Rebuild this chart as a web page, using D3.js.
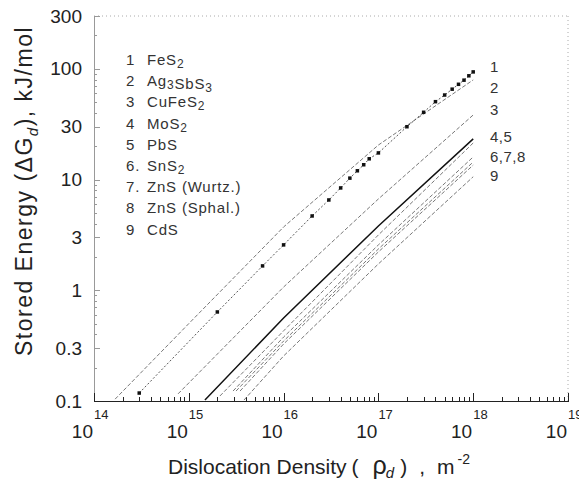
<!DOCTYPE html>
<html lang="en">
<head>
<meta charset="UTF-8">
<title>Stored energy vs dislocation density</title>
<script src="https://d3js.org/d3.v7.min.js"></script>
<style>
  body { margin: 0; background: #fff; }
  svg { font-family: "Liberation Sans", Arial, sans-serif; }
  .axis path, .axis line { fill: none; shape-rendering: crispEdges; }
  .bottom path, .bottom line { stroke: #222; }
  .left path, .left line { stroke: #999; }
  .left text { font-size: 19px; fill: #222; font-family: "Liberation Sans", Arial, sans-serif; }
  .frame { fill: none; stroke: #aaa; stroke-dasharray: 1,3; }
  .legend text { font-size: 15px; fill: #333; letter-spacing: 0.8px; }
  .endlab { font-size: 15px; fill: #333; letter-spacing: 0.5px; }
</style>
</head>
<body>
<svg id="chart" width="579" height="483"></svg>
<script>
// ---- data ----
var names = ["FeS2", "Ag3SbS3", "CuFeS2", "MoS2", "PbS", "SnS2", "ZnS (Wurtz.)", "ZnS (Sphal.)", "CdS"];
var numbers = ["1", "2", "3", "4", "5", "6.", "7.", "8", "9"];

// FeS2 (with markers)
var rho1 = [3e14, 2e15, 6e15, 1e16, 2e16, 3e16, 4e16, 5e16, 6e16, 7e16, 8e16, 1e17,
            2e17, 3e17, 4e17, 5e17, 6e17, 7e17, 8e17, 9e17, 1e18];
var dg1  = [0.118, 0.637, 1.66, 2.57, 4.69, 6.54, 8.4, 10.3, 12.0, 13.6, 15.4, 17.4,
            30, 40.5, 50.5, 58, 65.5, 72.5, 79, 86.5, 93.8];
var rho2 = [1.67e14, 1e15, 1e16, 1e17, 1e18];
var dg2  = [0.104, 0.50, 3.73, 20.5, 79.4];
var rho3 = [7.7e14, 1e16, 1e17, 1e18];
var dg3  = [0.116, 1.07, 6.68, 38.3];
var rho4 = [1.48e15, 1e16, 1e17, 1e18];
var dg4  = [0.102, 0.562, 3.81, 23.3];
var rho5 = [2.13e15, 1e16, 1e17, 1e18];
var dg5  = [0.111, 0.43, 3.16, 21.4];
var rho6 = [2.93e15, 1e16, 1e17, 1e18];
var dg6  = [0.123, 0.378, 2.57, 16.0];
var rho7 = [3.15e15, 1e16, 1e17, 1e18];
var dg7  = [0.123, 0.348, 2.36, 14.4];
var rho8 = [3.47e15, 1e16, 1e17, 1e18];
var dg8  = [0.123, 0.327, 2.22, 13.5];
var rho9 = [3.82e15, 1e16, 1e17, 1e18];
var dg9  = [0.102, 0.255, 1.73, 10.6];

var xDecades = [1e14, 1e15, 1e16, 1e17, 1e18, 1e19];
var xExps = ["14", "15", "16", "17", "18", "19"];
var yTicks = [0.1, 0.3, 1, 3, 10, 30, 100, 300];
var yTickLabels = ["0.1", "0.3", "1", "3", "10", "30", "100", "300"];

var endLabels = ["1", "2", "3", "4,5", "6,7,8", "9"];
var endLabelVals = [104, 67, 42.5, 24.3, 16.0, 10.8];
var endLabelRho = 1.5e18;

// ---- chart ----
var svg = d3.select("#chart");
var padL = 94, padR = 568, padT = 16, padB = 401;

var x = d3.scaleLog().domain([1e14, 1e19]).range([padL, padR]);
var y = d3.scaleLog().domain([0.1, 300]).range([padB, padT]);

// minor tick positions
var xMinor = [];
xDecades.slice(0, -1).forEach(function(d) {
  for (var k = 2; k <= 9; k++) xMinor.push(d * k);
});
var yMinor = [];
[0.1, 1, 10, 100].forEach(function(d) {
  for (var k = 2; k <= 9; k++) if (d * k <= 300) yMinor.push(d * k);
});

// frame (top and right, faint dotted)
svg.append("line").attr("class", "frame")
  .attr("x1", padL).attr("x2", padR).attr("y1", padT).attr("y2", padT);
svg.append("line").attr("class", "frame")
  .attr("x1", padR).attr("x2", padR).attr("y1", padT).attr("y2", padB);

// left axis
svg.append("g").attr("class", "axis left")
  .attr("transform", "translate(" + padL + ",0)")
  .call(d3.axisLeft(y).tickValues(yMinor).tickSize(-3).tickFormat(""));
svg.append("g").attr("class", "axis left")
  .attr("transform", "translate(" + padL + ",0)")
  .call(d3.axisLeft(y).tickValues(yTicks).tickSize(-6).tickPadding(12)
    .tickFormat(function(d, i) { return yTickLabels[i]; }));

// bottom axis
svg.append("g").attr("class", "axis bottom")
  .attr("transform", "translate(0," + padB + ")")
  .call(d3.axisBottom(x).tickValues(xMinor).tickSize(-4).tickFormat(""));
svg.append("g").attr("class", "axis bottom")
  .attr("transform", "translate(0," + padB + ")")
  .call(d3.axisBottom(x).tickValues(xDecades).tickSize(-8).tickFormat(""));

// x tick labels 10^n
var xl = svg.append("g");
xDecades.forEach(function(d, i) {
  xl.append("text").attr("x", x(d) - 1).attr("y", 438)
    .attr("text-anchor", "end").style("font-size", "19px").style("fill", "#222")
    .text("10");
  xl.append("text").attr("x", x(d) + 0).attr("y", 419)
    .style("font-size", "13px").style("fill", "#222")
    .text(xExps[i]);
});

// series
var series = [
  [rho1, dg1], [rho2, dg2], [rho3, dg3], [rho4, dg4], [rho5, dg5],
  [rho6, dg6], [rho7, dg7], [rho8, dg8], [rho9, dg9]
];
var line = d3.line()
  .x(function(d) { return x(d[0]); })
  .y(function(d) { return y(d[1]); });

series.forEach(function(s, i) {
  var pts = s[0].map(function(r, j) { return [r, s[1][j]]; });
  var p = svg.append("path").datum(pts)
    .attr("d", line)
    .attr("fill", "none");
  if (i == 3) {
    p.attr("stroke", "#111").attr("stroke-width", 1.5);
  } else if (i == 0) {
    p.attr("stroke", "#444").attr("stroke-width", 0.9).attr("stroke-dasharray", "2,2");
  } else {
    p.attr("stroke", "#555").attr("stroke-width", 0.8).attr("stroke-dasharray", "4,2");
  }
});

// FeS2 markers
svg.append("g").selectAll("rect")
  .data(rho1.map(function(r, j) { return [r, dg1[j]]; }))
  .enter().append("rect")
  .attr("x", function(d) { return x(d[0]) - 1.75; })
  .attr("y", function(d) { return y(d[1]) - 1.75; })
  .attr("width", 3.5).attr("height", 3.5)
  .attr("fill", "#111");

// legend
var lg = svg.append("g").attr("class", "legend");
names.forEach(function(n, i) {
  var yy = 65 + i * 21.2;
  lg.append("text").attr("x", 126).attr("y", yy).text(numbers[i]);
  var t = lg.append("text").attr("x", 147).attr("y", yy);
  n.split(/(\d)/).forEach(function(part) {
    if (part === "") return;
    if (/^\d$/.test(part)) {
      t.append("tspan").attr("dy", 3).style("font-size", "12px").text(part);
      t.append("tspan").attr("dy", -3).text("");
    } else {
      t.append("tspan").text(part);
    }
  });
});

// end labels
endLabels.forEach(function(l, i) {
  svg.append("text").attr("class", "endlab")
    .attr("x", x(endLabelRho)).attr("y", y(endLabelVals[i]))
    .attr("dy", "0.35em").text(l);
});

// axis titles
var yt = svg.append("text")
  .attr("transform", "translate(32,191) rotate(-90)")
  .attr("text-anchor", "middle")
  .style("font-size", "23px").style("fill", "#222")
  .style("letter-spacing", "1.5px");
yt.append("tspan").text("Stored Energy (\u0394G");
yt.append("tspan").attr("dy", 6).style("font-size", "15px").style("font-style", "italic").text("d");
yt.append("tspan").attr("dy", -6).text("), kJ/mol");

var xt = svg.append("text")
  .attr("x", 168).attr("y", 474)
  .style("font-size", "21px").style("fill", "#222");
xt.append("tspan").text("Dislocation Density");
xt.append("tspan").attr("dx", 5).text("(");
xt.append("tspan").attr("dx", 14).style("font-size", "25px").text("\u03c1");
xt.append("tspan").attr("dx", -1).attr("dy", 4).style("font-size", "15px").style("font-style", "italic").text("d");
xt.append("tspan").attr("dx", 6).attr("dy", -4).text(")");
xt.append("tspan").attr("dx", 12).text(",");
xt.append("tspan").attr("dx", 12).text("m");
xt.append("tspan").attr("dx", 3).attr("dy", -10).style("font-size", "14px").text("-2");
</script>
</body>
</html>
